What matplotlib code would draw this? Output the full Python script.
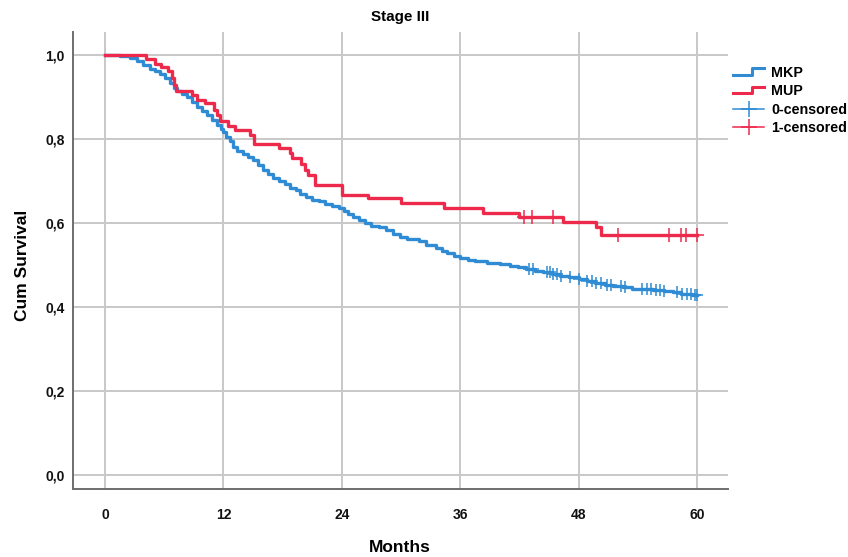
import numpy as np
import matplotlib
matplotlib.use("Agg")
import matplotlib.pyplot as plt
from matplotlib.legend_handler import HandlerBase
from matplotlib.lines import Line2D

plt.rcParams['font.family'] = ['Liberation Sans', 'DejaVu Sans']

# ---- data ----
mkp_t = [0, 1.5, 2.5, 3.2, 3.9, 4.6, 5.1, 5.6, 6.1, 6.6, 7.0, 7.3, 7.8, 8.3, 8.8, 9.3, 9.8,
         10.3, 10.8, 11.3, 11.7, 12.0, 12.3, 12.7, 13.0, 13.4, 14.0, 14.5, 15.0, 15.5, 16.0,
         16.5, 17.0, 17.6, 18.2, 18.7, 19.3, 19.8, 20.4, 21.0, 21.7, 22.3, 23.0, 23.7, 24.2,
         24.6, 25.1, 25.7, 26.3, 26.9, 27.8, 28.5, 29.2, 29.9, 30.6, 31.8, 32.5, 33.5, 34.1,
         34.6, 35.3, 36.0, 36.8, 37.5, 38.7, 40.0, 41.0, 41.8, 42.6, 43.6, 44.4, 45.3, 46.1,
         47.0, 48.0, 48.8, 49.6, 50.6, 51.5, 52.5, 53.4, 55.5, 56.6, 57.5, 58.3, 59.5]
mkp_s = [1.0, 0.998, 0.992, 0.986, 0.977, 0.968, 0.962, 0.955, 0.945, 0.933, 0.922, 0.914,
         0.908, 0.900, 0.889, 0.877, 0.867, 0.857, 0.845, 0.833, 0.825, 0.818, 0.806, 0.795,
         0.782, 0.772, 0.765, 0.757, 0.750, 0.738, 0.727, 0.716, 0.708, 0.701, 0.692, 0.684,
         0.678, 0.670, 0.662, 0.656, 0.652, 0.646, 0.641, 0.637, 0.630, 0.622, 0.614, 0.607,
         0.600, 0.594, 0.590, 0.583, 0.575, 0.568, 0.561, 0.557, 0.549, 0.540, 0.534, 0.528,
         0.522, 0.518, 0.513, 0.509, 0.506, 0.503, 0.499, 0.495, 0.490, 0.486, 0.483, 0.479,
         0.475, 0.471, 0.467, 0.462, 0.457, 0.453, 0.450, 0.447, 0.444, 0.441, 0.438, 0.435,
         0.432, 0.430]
mkp_censored = [42.9, 43.3, 44.8, 45.1, 45.4, 45.8, 46.2, 47.1, 48.0, 48.8, 49.3, 49.7, 50.2,
                50.8, 51.2, 52.3, 52.7, 54.4, 54.9, 55.3, 55.8, 56.2, 56.6, 57.9, 58.4, 58.9,
                59.4, 59.8, 60.0]

mup_t = [0, 4.2, 5.1, 5.7, 6.4, 6.8, 7.0, 7.2, 8.8, 9.3, 10.1, 11.0, 11.3, 11.6, 12.5, 13.2,
         14.7, 15.1, 17.6, 18.7, 18.9, 19.9, 20.3, 20.6, 21.3, 24.0, 26.6, 30.0, 34.3, 38.3,
         41.9, 46.4, 49.7, 50.2]
mup_s = [1.0, 0.990, 0.980, 0.971, 0.962, 0.945, 0.930, 0.915, 0.905, 0.894, 0.885, 0.870,
         0.857, 0.843, 0.832, 0.821, 0.809, 0.788, 0.778, 0.766, 0.756, 0.740, 0.727, 0.714,
         0.690, 0.668, 0.659, 0.647, 0.636, 0.625, 0.614, 0.603, 0.591, 0.571]
mup_censored = [42.4, 43.2, 45.4, 52.0, 57.1, 58.3, 58.8, 60.0]

t_end = 60
x_ticks = [0, 12, 24, 36, 48, 60]
y_ticks = [0.0, 0.2, 0.4, 0.6, 0.8, 1.0]
y_tick_labels = ['0,0', '0,2', '0,4', '0,6', '0,8', '1,0']

BLUE = '#2F8BD3'
RED = '#EE2A4C'


def surv_at(times, surv, t):
    idx = np.searchsorted(times, t, side='right') - 1
    return np.asarray(surv)[idx]


fig = plt.figure(figsize=(8.48, 5.57), dpi=100)
ax = fig.add_axes([73 / 848, 1 - 489 / 557, (728 - 73) / 848, (489 - 32) / 557])

for t, s, c in [(mkp_t, mkp_s, BLUE), (mup_t, mup_s, RED)]:
    tt = list(t) + [t_end]
    ss = list(s) + [s[-1]]
    ax.step(tt, ss, where='post', color=c, lw=2.4, zorder=3)

ax.plot(mkp_censored, surv_at(mkp_t, mkp_s, mkp_censored), ls='none', marker='+',
        ms=9, mew=1.1, color=BLUE, zorder=4)
ax.plot(mup_censored, surv_at(mup_t, mup_s, mup_censored), ls='none', marker='+',
        ms=10, mew=1.1, color=RED, zorder=4)

ax.set_xlim(-3.24, 63.1)
ax.set_ylim(-0.033, 1.055)
ax.set_xticks(x_ticks)
ax.set_yticks(y_ticks)
ax.set_yticklabels(y_tick_labels)
ax.grid(True, color='#C8C8C8', lw=1.4)
ax.set_axisbelow(True)
for sp in ['top', 'right']:
    ax.spines[sp].set_visible(False)
for sp in ['left', 'bottom']:
    ax.spines[sp].set_color('#6E6E6E')
    ax.spines[sp].set_linewidth(1.4)
ax.tick_params(length=0, labelsize=10, colors='#111111')
ax.tick_params(axis='x', pad=14)
ax.tick_params(axis='y', pad=6)
for lab in ax.get_xticklabels() + ax.get_yticklabels():
    lab.set_fontweight('bold')

ax.set_xlabel('Months', fontsize=12.5, fontweight='bold', va='center')
ax.set_ylabel('Cum Survival', fontsize=12.5, fontweight='bold', va='center')
ax.xaxis.set_label_coords((400 - 73) / 655, (489 - 547) / 457)
ax.yaxis.set_label_coords((22 - 73) / 655, (489 - 265) / 457)
fig.text(400 / 848, 1 - 17 / 557, 'Stage III', ha='center', va='center',
         fontsize=11, fontweight='bold')


class StepHandler(HandlerBase):
    def create_artists(self, legend, orig_handle, xdescent, ydescent, width, height,
                       fontsize, trans):
        x0, x1 = -xdescent, -xdescent + width
        xm = x0 + width * 0.6
        y0 = -ydescent + height * 0.2
        y1 = -ydescent + height * 0.85
        ln = Line2D([x0, xm, xm, x1], [y0, y0, y1, y1], color=orig_handle.get_color(),
                    lw=2.2, transform=trans)
        return [ln]


class CensorHandler(HandlerBase):
    def create_artists(self, legend, orig_handle, xdescent, ydescent, width, height,
                       fontsize, trans):
        x0, x1 = -xdescent, -xdescent + width
        ym = -ydescent + height * 0.5
        ln = Line2D([x0, x1], [ym, ym], color=orig_handle.get_color(), lw=1.1, transform=trans)
        mk = Line2D([(x0 + x1) / 2], [ym], marker='+', ms=12, mew=1.1, ls='none',
                    color=orig_handle.get_color(), transform=trans)
        return [ln, mk]


h1 = Line2D([], [], color=BLUE)
h2 = Line2D([], [], color=RED)
h3 = Line2D([], [], color=BLUE)
h4 = Line2D([], [], color=RED)
leg = fig.legend([h1, h2, h3, h4], ['MKP', 'MUP', '0-censored', '1-censored'],
                 handler_map={h1: StepHandler(), h2: StepHandler(),
                              h3: CensorHandler(), h4: CensorHandler()},
                 loc='upper left', bbox_to_anchor=(733 / 848, 1 - 66 / 557),
                 frameon=False, prop={'weight': 'bold', 'size': 10.3},
                 handlelength=2.2, handletextpad=0.45, labelspacing=0.3, borderaxespad=0,
                 borderpad=0)

fig.savefig('out.png', dpi=100)
